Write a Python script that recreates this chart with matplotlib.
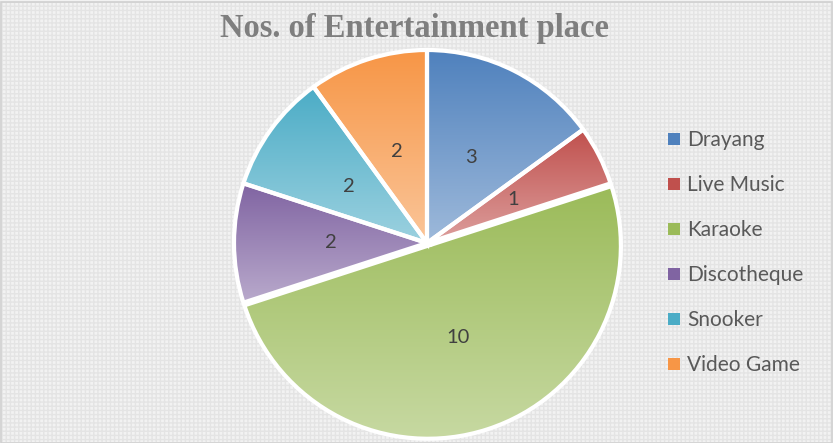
"""Pie chart of the number of entertainment places by type."""

import numpy as np
import matplotlib
matplotlib.use('Agg')
import matplotlib.pyplot as plt
from matplotlib.colors import to_rgb
from matplotlib.patches import Rectangle, Patch

# Data
categories = ['Drayang', 'Live Music', 'Karaoke', 'Discotheque', 'Snooker', 'Video Game']
counts = [3, 1, 10, 2, 2, 2]
colors = ['#4F81BD', '#C0504D', '#9BBB59', '#8064A2', '#4BACC6', '#F79646']
explode = [0, 0, 0.015, 0, 0, 0]


def main():
    fig = plt.figure(figsize=(8.33, 4.43), dpi=100)
    fig.patch.set_facecolor('#f2f2f2')

    # Faint textured background and border
    fig.patches.append(Rectangle((0.002, 0.002), 0.996, 0.993, transform=fig.transFigure,
                                 facecolor='none', edgecolor='#e4e4e4', hatch='++++',
                                 linewidth=0, zorder=-2))
    fig.patches.append(Rectangle((0.001, 0.001), 0.998, 0.994, transform=fig.transFigure,
                                 facecolor='none', edgecolor='#d0d0d0', linewidth=1.2))

    # Pie axes: centre at (427, 243) px, radius about 193 px
    r_px = 193.0
    lim = 1.04
    w_px = 2 * lim * r_px
    ax = fig.add_axes([(427 - lim * r_px) / 833, (443 - 243 - lim * r_px) / 443,
                       w_px / 833, w_px / 443])
    ax.set_xlim(-lim, lim)
    ax.set_ylim(-lim, lim)
    ax.axis('off')

    wedges, texts = ax.pie(counts, startangle=90, counterclock=False, explode=explode,
                           colors=colors, labels=[str(c) for c in counts],
                           labeldistance=0.5, radius=1.0,
                           wedgeprops=dict(edgecolor='white', linewidth=3),
                           textprops=dict(fontsize=14.5, color='#404040', family='Lato',
                                          ha='center', va='center'))
    for t in texts:
        t.set_zorder(5)

    # Vertical gradient fill per slice: darker on top, lighter at bottom
    for w, c in zip(wedges, colors):
        base = np.array(to_rgb(c))
        light = base + (1 - base) * 0.45
        verts = w.get_path().vertices
        x0, y0 = verts.min(axis=0)
        x1, y1 = verts.max(axis=0)
        t = np.linspace(0, 1, 256)[:, None]
        grad = light[None, :] * (1 - t) + base[None, :] * t
        img = np.repeat(grad[:, None, :], 2, axis=1)
        im = ax.imshow(img, extent=[x0, x1, y0, y1], origin='lower',
                       aspect='auto', interpolation='bilinear', zorder=1)
        im.set_clip_path(w)
        w.set_facecolor('none')
        w.set_zorder(2)

    ax.set_xlim(-lim, lim)
    ax.set_ylim(-lim, lim)

    # Title
    fig.text(414 / 833, 1 - 28 / 443, 'Nos. of Entertainment place', ha='center', va='center',
             fontsize=23.5, fontweight='bold', color='#7f7f7f', family='Liberation Serif')

    # Legend
    handles = [Patch(facecolor=c, edgecolor='none') for c in colors]
    fig.legend(handles, categories, loc='upper left',
               bbox_to_anchor=(658 / 833, 1 - 120 / 443), frameon=False,
               prop=dict(family='Lato', size=15), labelcolor='#595959',
               handlelength=0.55, handleheight=0.55, handletextpad=0.35,
               labelspacing=1.2, borderpad=0)

    fig.savefig('out.png', dpi=100, facecolor=fig.get_facecolor())


if __name__ == "__main__":
    main()
